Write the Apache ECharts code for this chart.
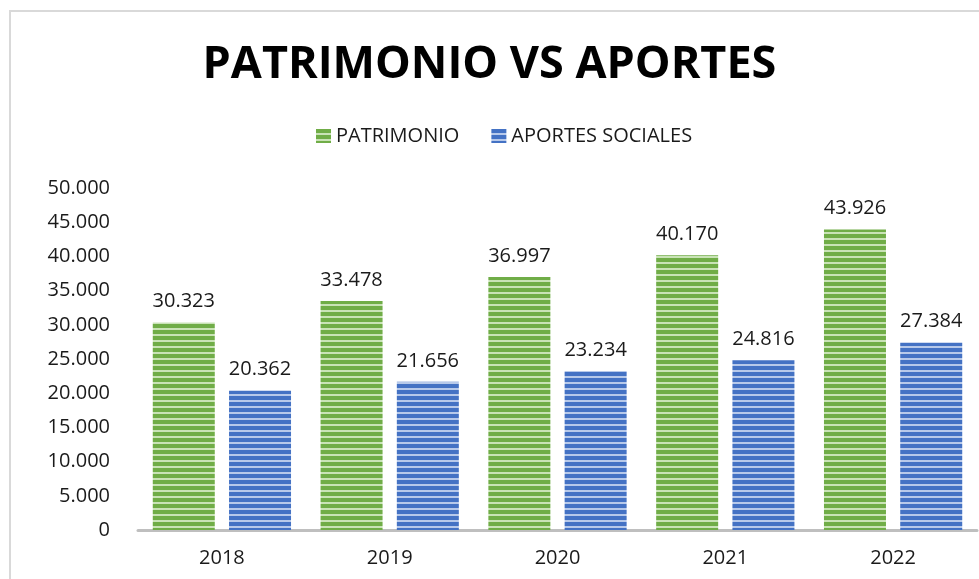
<!DOCTYPE html>
<html>
<head>
<meta charset="utf-8">
<script src="https://cdn.jsdelivr.net/npm/echarts@6/dist/echarts.min.js"></script>
<style>
  html, body { margin: 0; padding: 0; background: #fff; }
  #chart { width: 979px; height: 579px; }
</style>
</head>
<body>
<div id="chart"></div>
<script>
// datos
var years = ['2018', '2019', '2020', '2021', '2022'];
var patrimonio = [30323, 33478, 36997, 40170, 43926];
var aportes = [20362, 21656, 23234, 24816, 27384];
var yTicks = [0, 50000, 5000]; // min, max, interval

// separador de miles con punto
function fmt(n) {
    return String(n).replace(/\B(?=(\d{3})+(?!\d))/g, '.');
}

// relleno a rayas horizontales
function stripes(dark, light) {
    var c = document.createElement('canvas');
    c.width = 4;
    c.height = 6;
    var ctx = c.getContext('2d');
    ctx.fillStyle = dark;
    ctx.fillRect(0, 0, 4, 6);
    ctx.fillStyle = light;
    ctx.fillRect(0, 4, 4, 2);
    return { image: c, repeat: 'repeat' };
}

var dom = document.getElementById('chart');
var myChart = echarts.init(dom, null, { renderer: 'canvas' });

var txt = '#1a1a1a';
var option = {
    animation: false,
    title: {
        text: 'PATRIMONIO VS APORTES',
        left: 'center',
        top: 38,
        textStyle: {
            fontFamily: 'Open Sans',
            fontWeight: 'bold',
            fontSize: 45,
            color: '#000'
        }
    },
    legend: {
        top: 121,
        left: 311,
        itemWidth: 15,
        itemHeight: 14,
        itemGap: 32,
        icon: 'rect',
        textStyle: { fontFamily: 'Open Sans', fontSize: 20, color: txt }
    },
    graphic: [{
        type: 'rect',
        shape: { x: 10, y: 11, width: 1000, height: 620 },
        style: { fill: 'none', stroke: '#d9d9d9', lineWidth: 2 },
        silent: true
    }],
    grid: { left: 138, right: 2, top: 188, bottom: 49 },
    xAxis: {
        type: 'category',
        data: years,
        axisTick: { show: false },
        axisLine: { lineStyle: { color: '#bfbfbf', width: 3 } },
        axisLabel: { fontFamily: 'Open Sans', fontSize: 20, color: txt, margin: 18 }
    },
    yAxis: {
        type: 'value',
        min: yTicks[0],
        max: yTicks[1],
        interval: yTicks[2],
        splitLine: { show: false },
        axisLine: { show: false },
        axisLabel: {
            fontFamily: 'Open Sans', fontSize: 20, color: txt, margin: 28,
            formatter: function (v) { return fmt(v); }
        }
    },
    series: [
        {
            name: 'PATRIMONIO',
            type: 'bar',
            data: patrimonio,
            barWidth: 62,
            barGap: '23%',
            itemStyle: { color: stripes('#70ad47', '#c9e3b6') },
            label: {
                show: true, position: 'top', distance: 11,
                fontFamily: 'Open Sans', fontSize: 20, color: txt,
                formatter: function (p) { return fmt(p.value); }
            }
        },
        {
            name: 'APORTES SOCIALES',
            type: 'bar',
            data: aportes,
            barWidth: 62,
            itemStyle: { color: stripes('#4472c4', '#b7c9ea') },
            label: {
                show: true, position: 'top', distance: 11,
                fontFamily: 'Open Sans', fontSize: 20, color: txt,
                formatter: function (p) { return fmt(p.value); }
            }
        }
    ]
};

myChart.setOption(option);
window.addEventListener('resize', myChart.resize);
</script>
</body>
</html>
